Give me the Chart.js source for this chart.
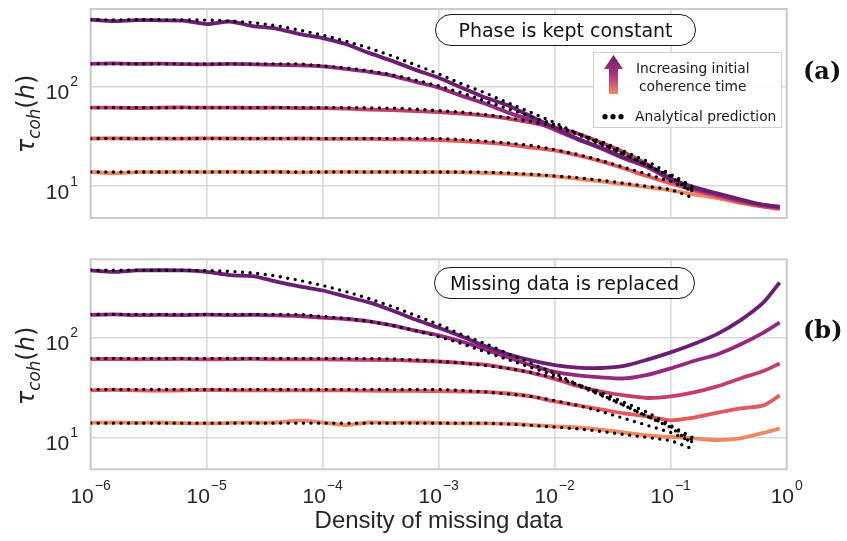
<!DOCTYPE html>
<html>
<head>
<meta charset="utf-8">
<script src="https://cdn.jsdelivr.net/npm/chart.js@4.4.1/dist/chart.umd.min.js"></script>
<style>
  body { margin: 0; background: #fff; }
  #page { position: relative; width: 847px; height: 541px; overflow: hidden; background: #fff;
          font-family: 'DejaVu Sans', sans-serif; color: #262626; }
  canvas { position: absolute; left: 0; }
  .pill { position: absolute; box-sizing: border-box; border: 1.3px solid #1a1a1a; border-radius: 16px;
          background: #fff; font-size: 19px; color: #111; display: flex; align-items: center; justify-content: center; }
  .tag { position: absolute; font: bold 24px 'DejaVu Serif', serif; color: #111; }
  .ylab { position: absolute; font-size: 24px; white-space: nowrap; transform: translate(-50%, -50%) rotate(-90deg); }
  .ylab sub { font-size: 0.7em; vertical-align: -0.3em; }
  .legend { position: absolute; left: 593px; top: 52px; width: 189px; height: 76px; box-sizing: border-box;
            border: 1px solid #cfcfcf; background: rgba(255,255,255,0.85); }
  .legend span { position: absolute; font-size: 13.8px; color: #1a1a1a; white-space: nowrap; }
</style>
</head>
<body>
<div id="page">
  <canvas id="chart-a" width="847" height="230" style="top:0"></canvas>
  <canvas id="chart-b" width="847" height="301" style="top:240px"></canvas>

  <div class="ylab" style="left:28px; top:114px"><i>τ</i><sub><i>coh</i></sub>(<i>h</i>)</div>
  <div class="ylab" style="left:28px; top:366px"><i>τ</i><sub><i>coh</i></sub>(<i>h</i>)</div>

  <div class="pill" style="left:435px; top:14px; width:261px; height:32px">Phase is kept constant</div>
  <div class="pill" style="left:434px; top:267px; width:261px; height:32px">Missing data is replaced</div>

  <div class="legend">
    <span style="left:42px; top:7px">Increasing initial</span>
    <span style="left:45px; top:25px">coherence time</span>
    <span style="left:41px; top:55px">Analytical prediction</span>
  </div>
  <svg style="position:absolute; left:593px; top:52px" width="60" height="76">
    <defs>
      <linearGradient id="arrowGrad" x1="0" y1="3" x2="0" y2="42" gradientUnits="userSpaceOnUse">
        <stop offset="0" stop-color="#6a2070"/>
        <stop offset="0.5" stop-color="#a8357a"/>
        <stop offset="1" stop-color="#f08a62"/>
      </linearGradient>
    </defs>
    <path d="M20.5 3 L30 17 L25 17 L25 42 L16 42 L16 17 L11 17 Z" fill="url(#arrowGrad)"/>
    <circle cx="12" cy="64.7" r="2.6" fill="#000"/>
    <circle cx="20" cy="64.7" r="2.6" fill="#000"/>
    <circle cx="28" cy="64.7" r="2.6" fill="#000"/>
  </svg>

  <div class="tag" style="left:803px; top:56px">(a)</div>
  <div class="tag" style="left:803px; top:315px">(b)</div>
</div>

<script>
// density of missing data (x), read on a 0.2-decade grid
const density = [1e-6, 1.58e-6, 2.51e-6, 3.98e-6, 6.31e-6,
                 1e-5, 1.58e-5, 2.51e-5, 3.98e-5, 6.31e-5,
                 1e-4, 1.58e-4, 2.51e-4, 3.98e-4, 6.31e-4,
                 1e-3, 1.58e-3, 2.51e-3, 3.98e-3, 6.31e-3,
                 0.01, 0.0158, 0.0251, 0.0398, 0.0631,
                 0.1, 0.158, 0.251, 0.398, 0.631, 0.87];

// (a) phase kept constant, coherence time in hours
const keptT470 = [472, 457, 468, 466, 462, 427, 452, 407, 385, 339, 309, 269, 219, 182, 148, 123,
                  98, 78, 65, 50, 39, 30, 24.5, 19.5, 16.2, 12.0, 9.8, 8.5, 7.4, 6.5, 6.2];
const keptT170 = [170, 172, 170, 171, 169, 168, 170, 168, 166, 164, 160, 151, 141, 129, 112, 98,
                  81, 68, 55, 46, 37, 29.5, 24, 19, 15.5, 11.7, 9.5, 8.3, 7.2, 6.5, 6.2];
const keptT62  = [61.7, 61.7, 61.2, 61.7, 62, 61.7, 61.8, 61.4, 61.7, 61.1, 61, 60.3, 58.9, 58.2, 56.9, 55.6,
                  53.7, 51.3, 47.9, 43.7, 38.9, 33.9, 27.5, 21.9, 16.6, 11.5, 9.3, 8.1, 7.1, 6.3, 6.0];
const keptT30  = [30.2, 30.3, 30.1, 30.2, 30.1, 30.3, 30.2, 30.1, 30.1, 30.2, 30.0, 29.9, 29.9, 29.6, 29.5, 29.2,
                  28.5, 27.5, 26.3, 24.5, 22.9, 20.4, 17.8, 15.1, 12.6, 10.7, 9.1, 7.9, 6.9, 6.3, 6.0];
const keptT14  = [14.0, 13.5, 13.9, 13.9, 14.0, 13.9, 14.0, 13.9, 14.0, 13.8, 13.9, 14.0, 13.9, 14.0, 13.9, 13.9,
                  13.8, 13.6, 13.3, 13.0, 12.6, 11.9, 11.2, 10.5, 9.8, 9.1, 8.3, 7.6, 6.8, 6.2, 5.9];

// (b) missing data replaced
const replT470 = [468, 452, 468, 470, 468, 452, 420, 410, 362, 324, 295, 257, 224, 186, 151, 125,
                  102, 82, 68, 59, 53, 50, 49.5, 52, 60, 71, 86, 108, 148, 224, 355];
const replT170 = [168, 170, 167, 168, 167, 169, 167, 168, 166, 164, 158, 153, 145, 132, 117, 105,
                  91, 76, 63, 52.5, 45.2, 41.7, 39.8, 38.9, 42.2, 49, 58.2, 67.6, 85, 112, 141];
const replT62  = [60.7, 61, 60.5, 60.8, 61.1, 60.5, 60.7, 61, 60.4, 60.5, 60.3, 60, 59.7, 59.2, 58.5, 57.5,
                  55.6, 53.5, 49, 44.2, 38.5, 32.7, 28.8, 26.3, 24.8, 25.7, 28.2, 32.4, 38.9, 46.2, 55];
const replT30  = [29.6, 29.9, 29.5, 29.4, 29.6, 29.8, 29.6, 29.5, 29.7, 29.5, 29.6, 29.5, 29.4, 29.2, 29.2, 29.0,
                  28.8, 28.5, 27.5, 25.7, 22.9, 20.9, 19.1, 17.4, 16.2, 14.8, 15.8, 17.6, 19.5, 20.9, 26.3];
const replT14  = [14.0, 14.1, 14.0, 14.1, 13.9, 13.8, 14.0, 14.1, 14.1, 14.7, 14.1, 13.3, 14.1, 14.0, 14.1, 14.0,
                  13.8, 13.8, 13.7, 13.3, 12.9, 12.6, 12.0, 11.2, 10.5, 10.1, 9.8, 9.4, 9.8, 11.1, 12.3];

// analytical prediction (same in both panels), stops near 0.2
const predT470 = [472, 470, 472, 471, 470, 468, 459, 442, 412, 372, 331, 288, 245, 204, 166, 135,
                  107, 87, 69, 55, 43.6, 33.9, 26.9, 20.9, 16.2, 12.6, 8.5, null, null, null, null];
const predT170 = [170, 170, 170, 170, 170, 170, 170, 170, 170, 170, 162, 155, 145, 132, 117, 102,
                  87, 72, 60, 50, 41.7, 33.1, 26.3, 20.9, 16.2, 12.9, 9.3, null, null, null, null];
const predT62  = [61.7, 61.7, 61.7, 61.7, 61.7, 61.7, 61.7, 61.7, 61.7, 61.7, 61.7, 61.7, 61.4, 61, 59.6, 57.5,
                  55.6, 52.5, 49, 44.7, 39.8, 33.9, 28.2, 22.4, 17.8, 13.2, 9.8, null, null, null, null];
const predT30  = [30.2, 30.2, 30.2, 30.2, 30.2, 30.2, 30.2, 30.2, 30.2, 30.2, 30.2, 30.2, 30.2, 30.2, 30.2, 30.2,
                  29.5, 28.5, 27.2, 25.7, 23.4, 20.9, 18.2, 15.5, 13.2, 11.2, 8.9, null, null, null, null];
const predT14  = [13.9, 13.9, 13.9, 13.9, 13.9, 13.9, 13.9, 13.9, 13.9, 13.9, 13.9, 13.9, 13.9, 13.9, 13.9, 13.9,
                  13.9, 13.9, 13.6, 13.2, 12.7, 12.2, 11.5, 10.7, 10.0, 9.3, 7.6, null, null, null, null];

// tick labels: base 10 and its exponent
const xTicks = [1e-6, 1e-5, 1e-4, 1e-3, 1e-2, 1e-1, 1];
const xTickExp = ['−6', '−5', '−4', '−3', '−2', '−1', '0'];
const yTicks = [10, 100];
const yTickExp = ['1', '2'];

// magma-like colours, lowest initial coherence time first
const lineColors = ['#ee8862', '#e2595f', '#c53e72', '#95297f', '#6a1f72'];

const FONT = "'Liberation Sans', Arial, sans-serif";
Chart.defaults.font.family = FONT;
Chart.defaults.color = '#262626';

const pts = ys => density.map((x, i) => ({ x, y: ys[i] })).filter(p => p.y != null);

function buildDatasets(curves) {
  const preds = [predT14, predT30, predT62, predT170, predT470];
  const ds = [];
  preds.forEach(p => ds.push({
    data: pts(p), borderColor: '#000', borderWidth: 3.4, borderDash: [0, 7.6],
    borderCapStyle: 'round', pointRadius: 0, tension: 0, order: 0,
  }));
  curves.forEach((c, i) => ds.push({
    data: pts(c), borderColor: lineColors[i], borderWidth: 3.8, pointRadius: 0,
    tension: 0.25, order: 10 - i,
  }));
  return ds;
}

// full light-grey frame round the plot area
const frame = {
  id: 'frame',
  beforeDatasetsDraw(chart) {
    const { ctx, chartArea: a } = chart;
    ctx.save();
    ctx.strokeStyle = '#cccccc';
    ctx.lineWidth = 2;
    ctx.strokeRect(a.left, a.top, a.right - a.left, a.bottom - a.top);
    ctx.restore();
  }
};

// "10" with a raised exponent, placed at the scale's own tick pixels
const powerTicks = {
  id: 'powerTicks',
  afterDraw(chart, args, opts) {
    const { ctx, scales: { x, y }, chartArea: a } = chart;
    ctx.save();
    ctx.fillStyle = '#262626';
    ctx.textBaseline = 'alphabetic';
    const big = '21px ' + FONT, small = '14px ' + FONT;
    yTicks.forEach((v, i) => {
      const py = y.getPixelForValue(v);
      ctx.font = small;
      const we = ctx.measureText(yTickExp[i]).width;
      ctx.fillText(yTickExp[i], 78 - we, py - 0.5);
      ctx.font = big;
      const wb = ctx.measureText('10').width;
      ctx.fillText('10', 78 - we - 1 - wb, py + 12.6);
    });
    if (opts.xLabels) {
      xTicks.forEach((v, i) => {
        const px = x.getPixelForValue(v);
        ctx.font = big;
        const wb = ctx.measureText('10').width;
        ctx.font = small;
        const we = ctx.measureText(xTickExp[i]).width;
        const left = px - (wb + 1 + we) / 2;
        ctx.fillText(xTickExp[i], left + wb + 1, a.bottom + 20.7);
        ctx.font = big;
        ctx.fillText('10', left, a.bottom + 33.4);
      });
    }
    ctx.restore();
  }
};

function makeChart(id, curves, bottom) {
  return new Chart(document.getElementById(id), {
    type: 'line',
    data: { datasets: buildDatasets(curves) },
    plugins: [frame, powerTicks],
    options: {
      responsive: false,
      animation: false,
      layout: { padding: bottom ? { top: 19.3, right: 60.3, bottom: 0, left: 0 }
                                : { top: 9, right: 60.3, bottom: 12, left: 0 } },
      plugins: { legend: { display: false }, tooltip: { enabled: false }, powerTicks: { xLabels: bottom } },
      scales: {
        x: {
          type: 'logarithmic', min: 1e-6, max: 1,
          afterBuildTicks: ax => { ax.ticks = xTicks.map(v => ({ value: v })); },
          afterFit: ax => { ax.height = bottom ? 71.7 : 0; ax.paddingLeft = 0; ax.paddingRight = 0; },
          grid: { color: '#d9d9d9', lineWidth: 1.6, drawTicks: false },
          border: { display: false },
          ticks: { display: false },
          title: { display: bottom, text: 'Density of missing data', font: { size: 24 },
                   padding: { top: 0, bottom: 5 } },
        },
        y: {
          type: 'logarithmic', min: 4.8, max: 605,
          afterBuildTicks: ax => { ax.ticks = yTicks.map(v => ({ value: v })); },
          afterFit: ax => { ax.width = 90.6; ax.paddingTop = 0; ax.paddingBottom = 0; },
          grid: { color: '#d9d9d9', lineWidth: 1.6, drawTicks: false },
          border: { display: false },
          ticks: { display: false },
        },
      },
    },
  });
}

makeChart('chart-a', [keptT14, keptT30, keptT62, keptT170, keptT470], false);
makeChart('chart-b', [replT14, replT30, replT62, replT170, replT470], true);
</script>
</body>
</html>
